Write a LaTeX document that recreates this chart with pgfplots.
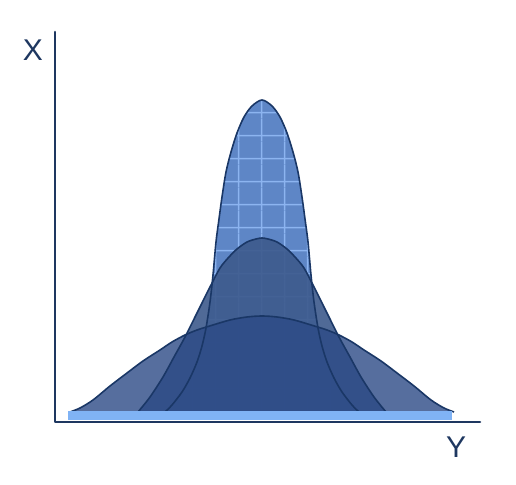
\documentclass[border=0pt]{standalone}
\usepackage{fontspec}
\setmainfont{Liberation Sans}
\usepackage{pgfplots}
\pgfplotsset{compat=1.18}
\usetikzlibrary{patterns.meta}
\definecolor{navy}{HTML}{1E3760}
\definecolor{edge}{HTML}{1A3766}
\definecolor{narrowc}{HTML}{5E86C6}
\definecolor{gridc}{HTML}{8CB4F0}
\definecolor{mediumc}{HTML}{3D5A8C}
\definecolor{widec}{HTML}{2C4A86}
\definecolor{bandc}{HTML}{80B3F5}
\tikzdeclarepattern{
  name=mygrid,
  type=uncolored,
  bounding box={(0pt,0pt) and (22.6pt,22.6pt)},
  tile size={(22.6pt,22.6pt)},
  code={
    \draw[line width=1.5pt] (-0.5pt,5.4pt) -- (23.1pt,5.4pt);
    \draw[line width=1.5pt] (11.9pt,-0.5pt) -- (11.9pt,23.1pt);
  }
}
\begin{document}
\begin{tikzpicture}
\begin{axis}[
  scale only axis, width=516pt, height=484pt,
  xmin=0, xmax=516, ymin=0, ymax=484,
  hide axis, clip=false,
]
% invisible extent
\addplot[draw=none, forget plot] coordinates {(0,0) (516,484)};
% narrow curve fill with grid
\addplot[fill=narrowc, draw=none, smooth, postaction={pattern=mygrid, pattern color=gridc}] coordinates {
(165,72) (172,79) (182,92) (190,106) (197,122) (202,138) (206,156) (210,182) (213,209) (216,242) (219,265) (222,287) (226,312) (231,332) (237,351) (244,367) (252,378) (262,384)
(272,378) (280,367) (287,351) (293,332) (298,312) (302,287) (305,265) (308,242) (311,209) (314,182) (318,156) (322,138) (327,122) (334,106) (342,92) (352,79) (359,72)
} -- cycle;
% medium curve fill
\addplot[fill=mediumc, fill opacity=0.9, draw=none, smooth] coordinates {
(138,72) (150,87) (163,107) (174,127) (185,147) (197,171) (210,197) (220,216) (229,227) (237,235) (247,242) (256,245) (262,246)
(268,245) (277,242) (287,235) (295,227) (304,216) (314,197) (327,171) (339,147) (350,127) (361,107) (374,87) (386,72)
} -- cycle;
% wide curve fill
\addplot[fill=widec, fill opacity=0.8, draw=none, smooth] coordinates {
(70,72) (80,76) (93,84) (110,98) (127,111) (143,123) (160,134) (172,142) (185,149) (197,154) (208,157.5) (230,164) (247,167) (262,168)
(277,167) (294,164) (316,157.5) (327,154) (339,149) (352,142) (364,134) (381,123) (397,111) (414,98) (431,84) (444,76) (454,72)
} -- cycle;
% outlines
\addplot[edge, line width=1.6pt, smooth] coordinates {
(165,72) (172,79) (182,92) (190,106) (197,122) (202,138) (206,156) (210,182) (213,209) (216,242) (219,265) (222,287) (226,312) (231,332) (237,351) (244,367) (252,378) (262,384)
(272,378) (280,367) (287,351) (293,332) (298,312) (302,287) (305,265) (308,242) (311,209) (314,182) (318,156) (322,138) (327,122) (334,106) (342,92) (352,79) (359,72)
};
\addplot[edge, line width=1.6pt, smooth] coordinates {
(138,72) (150,87) (163,107) (174,127) (185,147) (197,171) (210,197) (220,216) (229,227) (237,235) (247,242) (256,245) (262,246)
(268,245) (277,242) (287,235) (295,227) (304,216) (314,197) (327,171) (339,147) (350,127) (361,107) (374,87) (386,72)
};
\addplot[edge, line width=1.6pt, smooth] coordinates {
(70,72) (80,76) (93,84) (110,98) (127,111) (143,123) (160,134) (172,142) (185,149) (197,154) (208,157.5) (230,164) (247,167) (262,168)
(277,167) (294,164) (316,157.5) (327,154) (339,149) (352,142) (364,134) (381,123) (397,111) (414,98) (431,84) (444,76) (454,72)
};
% base band
\addplot[fill=bandc, draw=none] coordinates {(68,64) (452,64) (452,73) (68,73)} -- cycle;
% axes
\addplot[navy, line width=2.6pt, line cap=round, line join=round] coordinates {(55,452) (55,62) (480,62)};
\node[text=navy, font=\fontsize{30}{32}\selectfont] at (axis cs:33,434) {X};
\node[text=navy, font=\fontsize{30}{32}\selectfont] at (axis cs:456,37) {Y};
\end{axis}
\end{tikzpicture}
\end{document}
